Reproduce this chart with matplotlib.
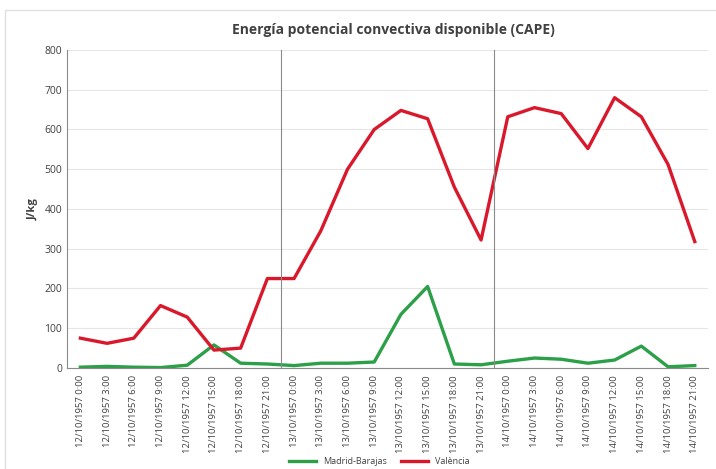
import numpy as np
import matplotlib.pyplot as plt
from matplotlib.patches import Rectangle

# horas y valores (CAPE, J/kg)
fechas = ["12/10/1957", "13/10/1957", "14/10/1957"]
horas = ["0:00", "3:00", "6:00", "9:00", "12:00", "15:00", "18:00", "21:00"]
etiquetas = [f + " " + h for f in fechas for h in horas]

madrid = [2, 4, 2, 1, 7, 58, 12, 10,
          6, 12, 12, 15, 135, 205, 10, 8,
          17, 25, 22, 12, 20, 55, 3, 6]
valencia = [75, 62, 75, 157, 128, 45, 50, 225,
            225, 345, 500, 600, 648, 627, 455, 322,
            632, 655, 640, 552, 680, 632, 512, 318]

plt.rcParams['font.family'] = ['Open Sans', 'DejaVu Sans']

fig = plt.figure(figsize=(7.16, 4.69), dpi=100)
fig.patches.append(Rectangle((0.007, -0.1), 1.1, 1.078, transform=fig.transFigure,
                             fill=False, edgecolor='#e0e0e0', lw=1))
ax = fig.add_axes([0.0936, 0.2154, 0.8954, 0.678])

x = np.arange(len(etiquetas))
ax.plot(x, madrid, color='#2ca048', lw=2.4, label='Madrid-Barajas')
ax.plot(x, valencia, color='#d9192b', lw=2.4, label='València')

for xv in [7.5, 15.5]:
    ax.axvline(xv, color='#8a8a8a', lw=0.8)

ax.set_xlim(-0.5, len(etiquetas) - 0.5)
ax.set_ylim(0, 800)
ax.set_yticks(range(0, 801, 100))
ax.grid(axis='y', color='#e6e6e6', lw=0.8)
ax.set_axisbelow(True)
ax.set_xticks(x)
ax.set_xticklabels(etiquetas, rotation=90, fontsize=6.8, color='#404040')
ax.tick_params(axis='y', labelsize=7.5, colors='#404040', length=0)
ax.tick_params(axis='x', length=0, pad=5)
for s in ['top', 'right']:
    ax.spines[s].set_visible(False)
ax.spines['left'].set_color('#8a8a8a')
ax.spines['bottom'].set_color('#8a8a8a')
ax.set_ylabel('J/kg', fontsize=8, fontweight='bold', color='#404040')

fig.text(0.55, 0.935, 'Energía potencial convectiva disponible (CAPE)',
         ha='center', va='center', fontsize=10, fontweight='bold', color='#404040')

fig.legend(loc='center', bbox_to_anchor=(0.53, 0.015), ncol=2, frameon=False,
           fontsize=6.5, handlelength=3, columnspacing=1.5, labelcolor='#404040')

fig.savefig('out.png', dpi=100)
